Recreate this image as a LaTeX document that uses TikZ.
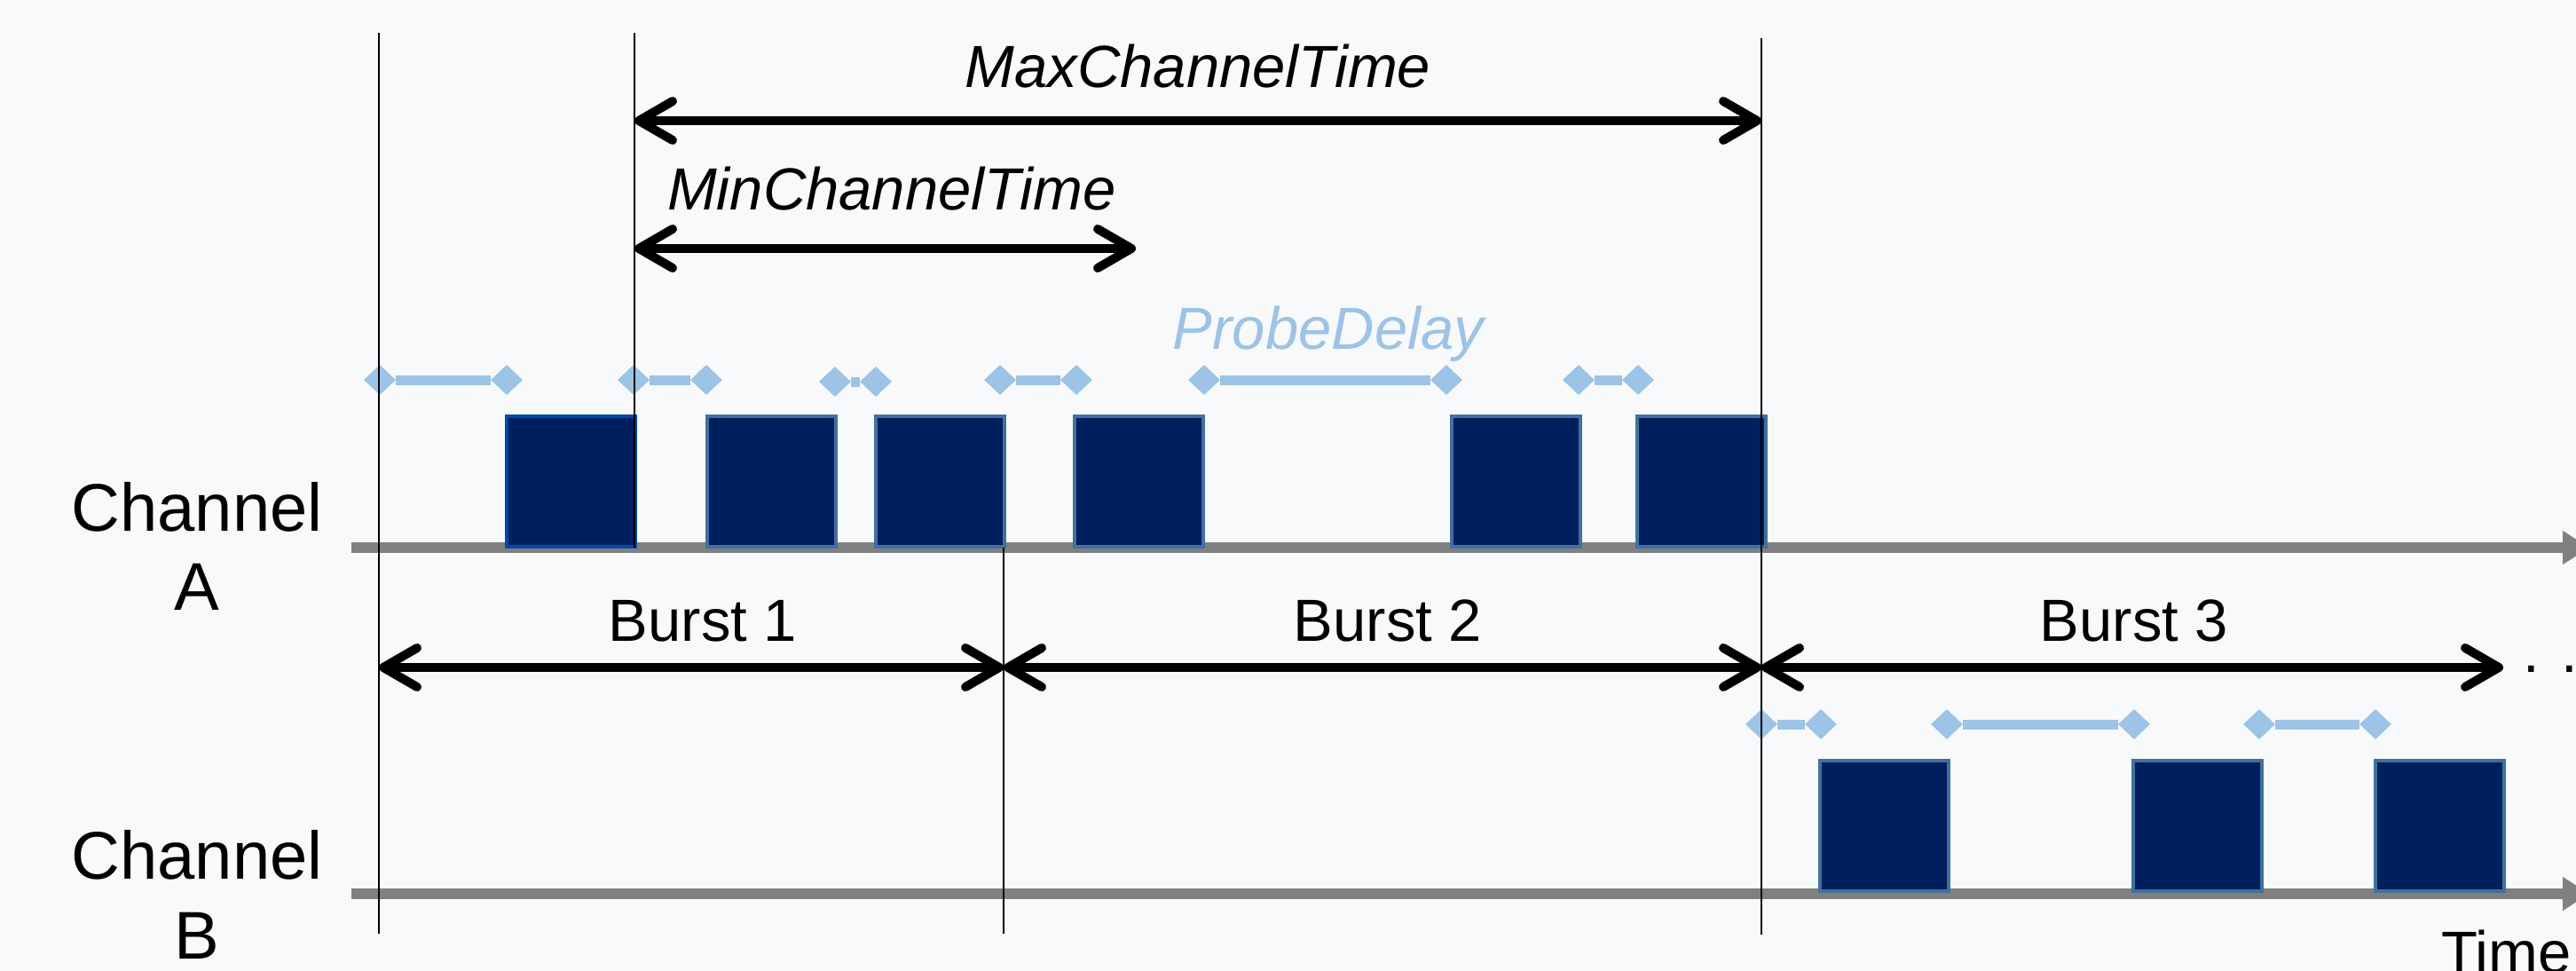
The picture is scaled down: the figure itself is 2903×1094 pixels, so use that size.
\documentclass[tikz,border=0pt]{standalone}
\usepackage{fontspec}
\setmainfont{Liberation Sans}
\usetikzlibrary{arrows.meta,shapes.geometric}
\definecolor{bg}{RGB}{248,249,251}
\definecolor{navy}{RGB}{0,31,95}
\definecolor{edge}{RGB}{65,113,156}
\definecolor{edgeA}{RGB}{0,72,170}
\definecolor{probe}{RGB}{157,195,230}
\definecolor{axisgray}{RGB}{128,128,128}

\begin{document}
\begin{tikzpicture}[x=1pt,y=-1pt,
  mark line/.style={draw=black, line width=2pt},
  axisline/.style={draw=axisgray, line width=12pt, -{Triangle[length=30pt,width=36pt]}},
  span/.style={draw=black, line width=10pt,
    {Straight Barb[length=38pt,width=44pt,round]}-{Straight Barb[length=38pt,width=44pt,round]}},
  frame/.style={rectangle, draw=edge, fill=navy, line width=4pt,
    minimum width=145pt, minimum height=147pt, inner sep=0pt},
  pd/.style={diamond, fill=probe, minimum width=36pt, minimum height=34pt, inner sep=0pt},
  pdline/.style={draw=probe, line width=11pt},
  lbl/.style={font=\fontsize{67}{80}\selectfont, inner sep=0pt, anchor=base},
  chlbl/.style={font=\fontsize{76}{89}\selectfont, inner sep=0pt, anchor=base},
]
% canvas
\path[use as bounding box, fill=bg] (0,0) rectangle (2903,1094);

% thin vertical time marks
\coordinate (m1t) at (427,37);   \coordinate (m1b) at (427,1052);
\coordinate (m2t) at (715,37);   \coordinate (m2b) at (715,617);
\coordinate (m3t) at (1131,617); \coordinate (m3b) at (1131,1052);
\coordinate (m4t) at (1985,43);  \coordinate (m4b) at (1985,1053);

% channel time axes
\coordinate (axAs) at (396,617);  \coordinate (axAe) at (2918,617);
\coordinate (axBs) at (396,1007); \coordinate (axBe) at (2918,1007);
\draw[axisline] (axAs) -- (axAe);
\draw[axisline] (axBs) -- (axBe);

% probe frames on channel A
\foreach \n/\cx in {a2/869, a3/1059, a4/1283, a5/1708.5, a6/1917}
  \node[frame] (\n) at (\cx,542.5) {};
\node[frame, draw=edgeA] (a1) at (643.5,542.5) {};
% probe frames on channel B
\foreach \n/\cx in {b1/2123, b2/2476, b3/2749}
  \node[frame] (\n) at (\cx,930) {};

% probe delays
\foreach \n/\l/\r/\yy in {1/428/571/428, 2/714/796/428, 3/941/987/430, 4/1127/1213/428,
                           5/1357/1630/428, 6/1779/1846/428,
                           7/1985/2052/816, 8/2194/2405/816, 9/2546/2677/816} {
  \node[pd] (p\n l) at (\l,\yy) {};
  \node[pd] (p\n r) at (\r,\yy) {};
  \draw[pdline] (p\n l) -- (p\n r);
}

\draw[mark line] (m1t) -- (m1b);
\draw[mark line] (m2t) -- (m2b);
\draw[mark line] (m3t) -- (m3b);
\draw[mark line] (m4t) -- (m4b);

% channel time limits
\coordinate (maxL) at (715,136);  \coordinate (maxR) at (1985,136);
\coordinate (minL) at (715,280);  \coordinate (minR) at (1280,280);
\draw[span] (maxL) -- (maxR);
\draw[span] (minL) -- (minR);
\node[lbl, font=\fontsize{67}{80}\selectfont\itshape] (maxlbl) at (1350,99) {MaxChannelTime};
\node[lbl, font=\fontsize{67}{80}\selectfont\itshape] (minlbl) at (1005,236) {MinChannelTime};
\node[lbl, font=\fontsize{67}{80}\selectfont\itshape, text=probe] (pdlbl) at (1497,393) {ProbeDelay};

% bursts
\coordinate (bu0) at (427,752);  \coordinate (bu1) at (1131,752);
\coordinate (bu2) at (1985,752); \coordinate (bu3) at (2821,752);
\draw[span] (bu0) -- (bu1);
\draw[span] (bu1) -- (bu2);
\draw[span] (bu2) -- (bu3);
\node[lbl] (bl1) at (792,722) {Burst 1};
\node[lbl] (bl2) at (1564,722) {Burst 2};
\node[lbl] (bl3) at (2405,722) {Burst 3};
\node[lbl, anchor=base west] (more) at (2843,757) {. . .};

% channel names and time label
\node[chlbl] (chA1) at (222,598) {Channel};
\node[chlbl] (chA2) at (222,687) {A};
\node[chlbl] (chB1) at (222,990) {Channel};
\node[chlbl] (chB2) at (222,1080) {B};
\node[lbl, anchor=base west] (time) at (2751,1096) {Time};
\end{tikzpicture}
\end{document}
